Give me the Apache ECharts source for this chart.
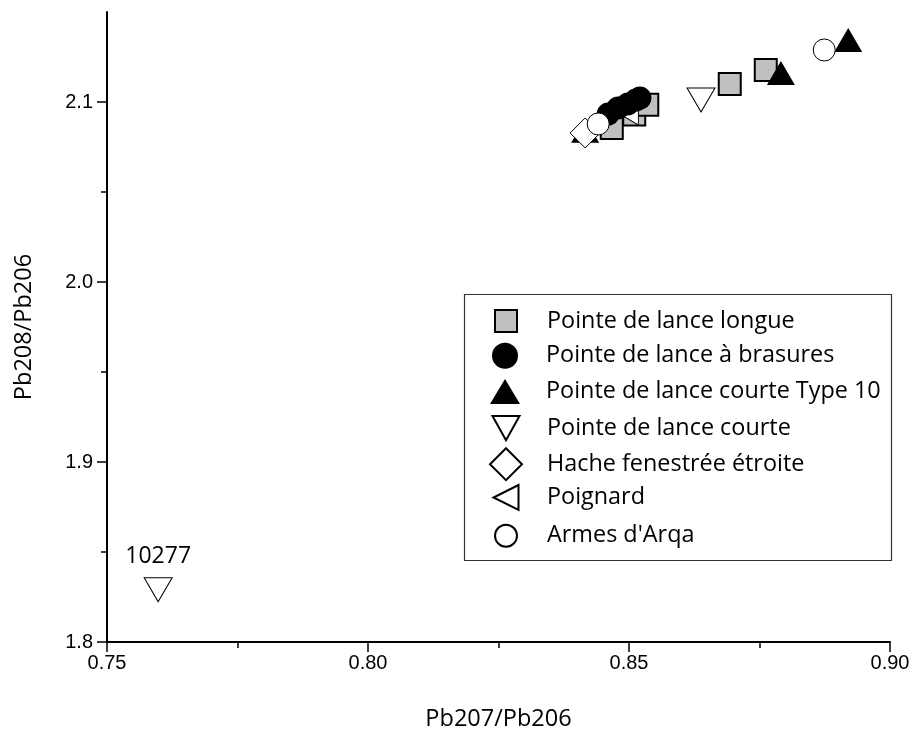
<!DOCTYPE html>
<html>
<head>
<meta charset="utf-8">
<script src="https://cdn.jsdelivr.net/npm/echarts@6/dist/echarts.min.js"></script>
<style>
  html, body { margin: 0; padding: 0; background: #fff; }
  #chart { width: 913px; height: 736px; }
</style>
</head>
<body>
<div id="chart"></div>
<script>
// points: [Pb207/Pb206, Pb208/Pb206]
let lanceLongue = [[0.8467, 2.0856], [0.8510, 2.0930], [0.8535, 2.0985], [0.8693, 2.1100], [0.8762, 2.1178]]
let poignard = [[0.8495, 2.0950]]
let lanceBrasures = [[0.8460, 2.0933], [0.8479, 2.0967], [0.8498, 2.0989], [0.8513, 2.1011], [0.8521, 2.1022]]
let lanceType10 = [[0.8416, 2.0840], [0.8791, 2.1161], [0.8920, 2.1344]]
let lanceCourte = [[0.7598, 1.8290], [0.8638, 2.1011]]
let hache = [[0.8416, 2.0828]]
let armesArqa = [[0.8441, 2.0878], [0.8874, 2.1289]]

let labelled = '10277'   // name shown above the outlier

let yMajor = [1.8, 1.9, 2.0, 2.1]
let yMinor = [1.85, 1.95, 2.05]

let downTri = 'path://M0,0L10,0L5,9Z'
let leftTri = 'path://M10,0L0,5L10,10Z'

let txt = '"Open Sans", "Noto Sans", sans-serif'
let ari = '"Liberation Sans", Arial, sans-serif'

// legend rows: name, series data, symbol, size, fill, border width, icon w, icon h
let groups = [
  ['Pointe de lance longue', lanceLongue, 'rect', 22, '#c0c0c0', 2, 22, 22],
  ['Pointe de lance à brasures', lanceBrasures, 'circle', 23, '#000', 0, 26, 26],
  ['Pointe de lance courte Type 10', lanceType10, 'triangle', [28, 24], '#000', 0, 30, 25],
  ['Pointe de lance courte', lanceCourte, downTri, [28, 24], '#fff', 1, 27, 25],
  ['Hache fenestrée étroite', hache, 'diamond', [30, 30], '#fff', 1, 32, 32],
  ['Poignard', poignard, leftTri, [24, 28], '#fff', 1, 25, 30],
  ['Armes d\'Arqa', armesArqa, 'circle', 22, '#fff', 1, 22, 22]
]

// drawing order (later on top)
let drawOrder = [0, 5, 1, 2, 3, 4, 6]

let myChart = echarts.init(document.getElementById('chart'))

let series = drawOrder.map(i => {
  let g = groups[i]
  return {
    name: g[0],
    type: 'scatter',
    data: g[1],
    symbol: g[2],
    symbolSize: g[3],
    xAxisIndex: 0,
    yAxisIndex: 0,
    itemStyle: { color: g[4], borderColor: '#000', borderWidth: g[5], opacity: 1 },
    label: {
      show: g[0] === 'Pointe de lance courte',
      position: 'top',
      distance: 9,
      fontFamily: txt,
      fontSize: 23,
      color: '#000',
      formatter: p => (p.dataIndex === 0 ? labelled : '')
    },
    emphasis: { disabled: true },
    animation: false
  }
})

let rowTop = 320
let rowStep = 35.8
let legends = groups.map((g, i) => ({
  show: true,
  data: [g[0]],
  orient: 'vertical',
  left: 505 - g[6] / 2,
  top: rowTop + rowStep * i - g[7] / 2,
  itemWidth: g[6],
  itemHeight: g[7],
  padding: 0,
  selectedMode: false,
  textStyle: {
    fontFamily: txt,
    fontSize: 23.4,
    color: '#000',
    padding: [0, 0, 0, 36 - g[6] / 2]
  }
}))

myChart.setOption({
  backgroundColor: '#fff',
  animation: false,
  grid: { left: 107, right: 23, top: 12, bottom: 94 },
  xAxis: {
    type: 'value',
    min: 0.75,
    max: 0.9,
    interval: 0.05,
    name: 'Pb207/Pb206',
    nameLocation: 'middle',
    nameGap: 65,
    nameTextStyle: { fontFamily: txt, fontSize: 23.5, color: '#000' },
    axisLine: { onZero: false, lineStyle: { color: '#000', width: 2 } },
    axisTick: { length: 10, lineStyle: { color: '#000', width: 1.5 } },
    minorTick: { show: true, splitNumber: 2, length: 6, lineStyle: { color: '#000', width: 1.5 } },
    axisLabel: { margin: 11, fontFamily: ari, fontSize: 20, color: '#000', formatter: v => v.toFixed(2) },
    splitLine: { show: false }
  },
  yAxis: [
    {
      type: 'value',
      min: 1.8,
      max: 2.15,
      name: 'Pb208/Pb206',
      nameLocation: 'middle',
      nameGap: 71,
      nameTextStyle: { fontFamily: txt, fontSize: 23.5, color: '#000' },
      axisLine: { onZero: false, lineStyle: { color: '#000', width: 2 } },
      axisTick: { length: 10, customValues: yMajor, lineStyle: { color: '#000', width: 1.5 } },
      axisLabel: { margin: 14, customValues: yMajor, fontFamily: ari, fontSize: 20, color: '#000', formatter: v => v.toFixed(1) },
      splitLine: { show: false }
    },
    {
      type: 'value',
      min: 1.8,
      max: 2.15,
      position: 'left',
      axisLine: { show: false },
      axisTick: { length: 6, customValues: yMinor, lineStyle: { color: '#000', width: 1.5 } },
      axisLabel: { show: false },
      splitLine: { show: false }
    }
  ],
  legend: legends,
  graphic: [{
    type: 'rect',
    left: 462,
    top: 292,
    shape: { width: 427, height: 266 },
    style: { fill: 'none', stroke: '#333', lineWidth: 1.2 },
    z: 0
  }],
  series: series
})
</script>
</body>
</html>
